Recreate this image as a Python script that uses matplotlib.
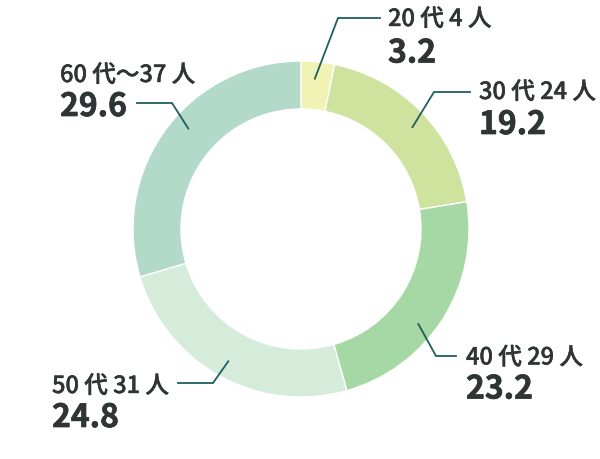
import matplotlib
matplotlib.use("Agg")
import matplotlib.pyplot as plt
import matplotlib.patheffects as pe
import numpy as np

plt.rcParams['font.family'] = ['Noto Sans CJK JP', 'DejaVu Sans']

categories = ["20 代 4 人", "30 代 24 人", "40 代 29 人", "50 代 31 人", "60 代～37 人"]
values = [3.2, 19.2, 23.2, 24.8, 29.6]
value_labels = ["3.2", "19.2", "23.2", "24.8", "29.6"]
colors = ["#f1f3b5", "#cfe29e", "#a6d8a5", "#d5ecdb", "#b3d9c8"]

# layout (pixel space, y downward)
CX, CY, R, W = 301, 230, 168, 48
ANCHOR_R = 151
layout = [
    dict(dang=0.5, elbow=(338, 19), end=(380, 19), name=(388, 18), val=(388, 51)),
    dict(dang=-1.5, elbow=(434, 93), end=(470, 93), name=(479, 91), val=(479, 122.5)),
    dict(dang=-6.6, elbow=(436, 357), end=(456, 357), name=(466, 356.5), val=(466, 387)),
    dict(dang=0.0, elbow=(213, 384), end=(178, 384), name=(52, 385), val=(52, 415.5)),
    dict(dang=-5.0, elbow=(172, 104), end=(137, 104), name=(60, 74), val=(60, 104.5)),
]

H = 460
fig = plt.figure(figsize=(6, 4.6), dpi=100)
ax = fig.add_axes([0, 0, 1, 1])
wedges, _ = ax.pie(values, colors=colors, startangle=90, counterclock=False,
                   center=(CX, H - CY), radius=R,
                   wedgeprops=dict(width=W, edgecolor="white", linewidth=1))
ax.set_xlim(0, 600)
ax.set_ylim(0, H)
ax.set_aspect("auto")
ax.axis("off")

line_color = "#1d5f5f"
text_color = "#2f3535"
for w, cat, vl, lay in zip(wedges, categories, value_labels, layout):
    ang = np.deg2rad((w.theta1 + w.theta2) / 2 + lay["dang"])
    px = CX + ANCHOR_R * np.cos(ang)
    py = (H - CY) + ANCHOR_R * np.sin(ang)
    ex, ey = lay["elbow"]
    nx, ny = lay["end"]
    ax.plot([px, ex, nx], [py, H - ey, H - ny], color=line_color, lw=1.3,
            solid_joinstyle="miter")
    ax.text(lay["name"][0], H - lay["name"][1], cat, ha="left", va="center_baseline",
            fontsize=17, fontweight=500, color=text_color,
            path_effects=[pe.withStroke(linewidth=0.3, foreground=text_color)])
    ax.text(lay["val"][0], H - lay["val"][1], vl, ha="left", va="center_baseline",
            fontsize=23, fontweight=700, color=text_color,
            path_effects=[pe.withStroke(linewidth=0.5, foreground=text_color)])

fig.savefig("out.png", dpi=100)
